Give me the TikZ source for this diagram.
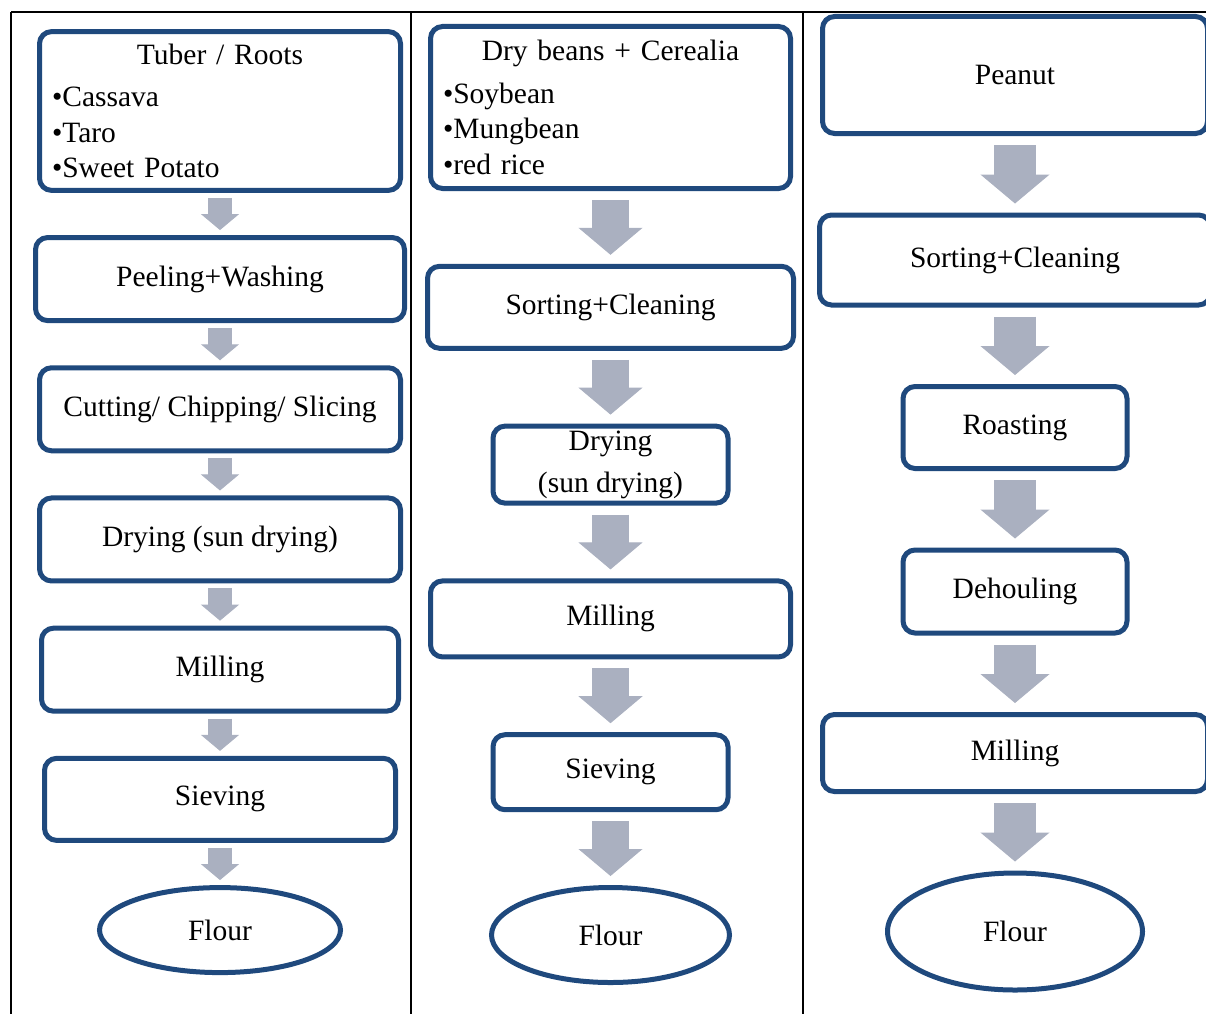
\documentclass[tikz,border=0pt]{standalone}
\usepackage{fontspec}
\setmainfont{Liberation Serif}
\usetikzlibrary{positioning,shapes.geometric,arrows.meta}

\definecolor{boxblue}{RGB}{31,73,125}
\definecolor{arrgray}{RGB}{170,176,192}

\tikzset{
  box/.style={draw=boxblue, line width=5pt, rounded corners=12pt, fill=white,
    inner sep=12.5pt, align=center},
  flour/.style={draw=boxblue, line width=5pt, ellipse, fill=white, inner sep=0pt},
  arrsmall/.style={draw=arrgray, line width=24pt,
    -{Triangle[width=38pt,length=16pt,line width=1pt]}, shorten <=5pt, shorten >=5pt},
  arrmid/.style={draw=arrgray, line width=37pt,
    -{Triangle[width=64pt,length=27pt,line width=1pt]}, shorten <=9pt, shorten >=9pt},
  arrbig/.style={draw=arrgray, line width=42pt,
    -{Triangle[width=69pt,length=29pt,line width=1pt]}, shorten <=9pt, shorten >=9pt},
}

\begin{document}
\begin{tikzpicture}[x=1pt, y=-1pt, font=\fontsize{29.5}{35.5}\selectfont]
\useasboundingbox (0,0) rectangle (1206,1014);
\clip (0,0) rectangle (1206,1014);

% table lines
\draw[line width=2pt] (11,12) -- (1206,12);
\draw[line width=2pt] (11,12) -- (11,1014);
\draw[line width=2pt] (411,12) -- (411,1014);
\draw[line width=2pt] (803,12) -- (803,1014);

% tuber / roots
\begin{scope}[node distance=42.2pt]
\node[box, align=left, text width=336pt, minimum height=155pt] (tuber) at (220,111)
  {\makebox[\linewidth]{Tuber / Roots}\\[6.5pt]•Cassava\\•Taro\\•Sweet Potato};
\node[box, minimum width=369pt, minimum height=83pt, below=of tuber] (peel) {Peeling+Washing};
\node[box, minimum width=361pt, minimum height=83pt, below=of peel] (cut) {Cutting/ Chipping/ Slicing};
\node[box, minimum width=361pt, minimum height=83pt, below=of cut] (dry) {Drying (sun drying)};
\node[box, minimum width=357pt, minimum height=83pt, below=of dry] (mill) {Milling};
\node[box, minimum width=351pt, minimum height=82pt, below=of mill] (sieve) {Sieving};
\node[flour, minimum width=241pt, minimum height=85pt, below=of sieve] (flour) {Flour};
\end{scope}
\draw[arrsmall] (tuber) -- (peel);
\draw[arrsmall] (peel) -- (cut);
\draw[arrsmall] (cut) -- (dry);
\draw[arrsmall] (dry) -- (mill);
\draw[arrsmall] (mill) -- (sieve);
\draw[arrsmall] (sieve) -- (flour);

% dry beans + cerealia
\begin{scope}[node distance=72.8pt]
\node[box, align=left, text width=335pt, minimum height=162pt] (beans) at (610.5,107.5)
  {\makebox[\linewidth]{Dry beans + Cerealia}\\[7pt]•Soybean\\•Mungbean\\•red rice};
\node[box, minimum width=366pt, minimum height=82pt, below=of beans] (sortb) {Sorting+Cleaning};
\node[box, minimum width=235pt, minimum height=77pt, inner sep=4pt, below=of sortb] (dryb) {Drying\\[6.5pt](sun drying)};
\node[box, minimum width=360pt, minimum height=76pt, below=of dryb] (millb) {Milling};
\node[box, minimum width=235pt, minimum height=75pt, below=of millb] (sieveb) {Sieving};
\node[flour, minimum width=238pt, minimum height=95pt, below=of sieveb] (flourb) {Flour};
\end{scope}
\draw[arrmid] (beans) -- (sortb);
\draw[arrmid] (sortb) -- (dryb);
\draw[arrmid] (dryb) -- (millb);
\draw[arrmid] (millb) -- (sieveb);
\draw[arrmid] (sieveb) -- (flourb);

% peanut
\begin{scope}[node distance=76.5pt]
\node[box, minimum width=385pt, minimum height=117pt] (peanut) at (1015,75) {Peanut};
\node[box, minimum width=391pt, minimum height=90pt, below=of peanut] (sortp) {Sorting+Cleaning};
\node[box, minimum width=224pt, minimum height=82pt, below=of sortp] (roast) {Roasting};
\node[box, minimum width=224pt, minimum height=83pt, below=of roast] (dehoul) {Dehouling};
\node[box, minimum width=385pt, minimum height=77pt, below=of dehoul] (millp) {Milling};
\node[flour, minimum width=255pt, minimum height=117pt, below=of millp] (flourp) {Flour};
\end{scope}
\draw[arrbig] (peanut) -- (sortp);
\draw[arrbig] (sortp) -- (roast);
\draw[arrbig] (roast) -- (dehoul);
\draw[arrbig] (dehoul) -- (millp);
\draw[arrbig] (millp) -- (flourp);

\end{tikzpicture}
\end{document}
